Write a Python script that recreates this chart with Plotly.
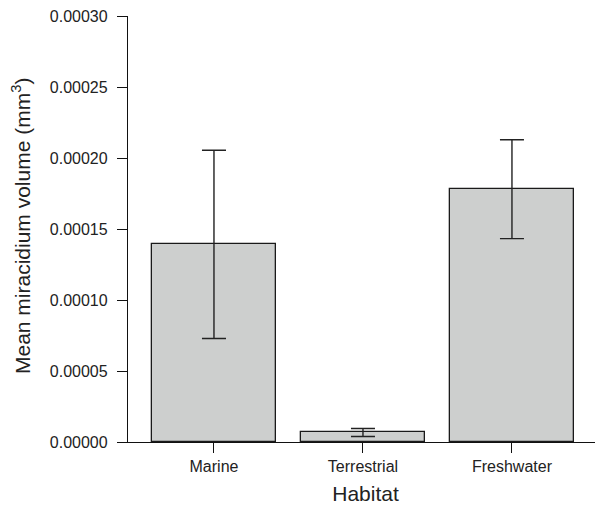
import plotly.graph_objects as go

habitats = ["Marine", "Terrestrial", "Freshwater"]
mean_volume = [0.0001392, 0.0000067, 0.0001780]
error_volume = [0.0000663, 0.0000028, 0.0000348]
y_ticks = [0.0, 0.00005, 0.00010, 0.00015, 0.00020, 0.00025, 0.00030]
y_tick_labels = ["0.00000", "0.00005", "0.00010", "0.00015", "0.00020", "0.00025", "0.00030"]

fig = go.Figure()
fig.add_trace(go.Bar(
    x=habitats,
    y=mean_volume,
    width=0.835,
    marker=dict(color="#cdcfce", line=dict(color="#1a1a1a", width=1.3)),
    error_y=dict(type="data", array=error_volume, visible=True,
                 color="#222222", thickness=1.4, width=12),
    showlegend=False,
))

font_family = "Liberation Sans, Arial, Helvetica, sans-serif"
fig.update_layout(
    width=595, height=497,
    margin=dict(l=120, r=0, t=6, b=63, pad=0),
    paper_bgcolor="white", plot_bgcolor="white",
    font=dict(family=font_family, size=16, color="#222222"),
    bargap=0,
)
fig.update_xaxes(
    type="category",
    range=[-0.577, 2.611],
    showline=True, linecolor="#111111", linewidth=1.3,
    ticks="outside", ticklen=10, tickwidth=1.3, tickcolor="#111111",
    showgrid=False, zeroline=False,
    tickfont=dict(size=16),
    title=dict(text="Habitat", font=dict(size=21), standoff=12),
)
fig.update_yaxes(
    range=[0, 0.0003],
    tickvals=y_ticks, ticktext=y_tick_labels,
    showline=True, linecolor="#111111", linewidth=1.3,
    ticks="outside", ticklen=10, tickwidth=1.3, tickcolor="#111111",
    ticklabelstandoff=6, ticklabeloverflow="allow",
    showgrid=False, zeroline=False,
    tickfont=dict(size=16),
)
fig.add_annotation(
    text="Mean miracidium volume (mm<sup>3</sup>)",
    xref="paper", yref="paper",
    x=-107 / 475, y=0.507,
    xanchor="center", yanchor="middle",
    textangle=-90, showarrow=False,
    font=dict(size=21, color="#222222"),
)

fig.write_html("out.html")
